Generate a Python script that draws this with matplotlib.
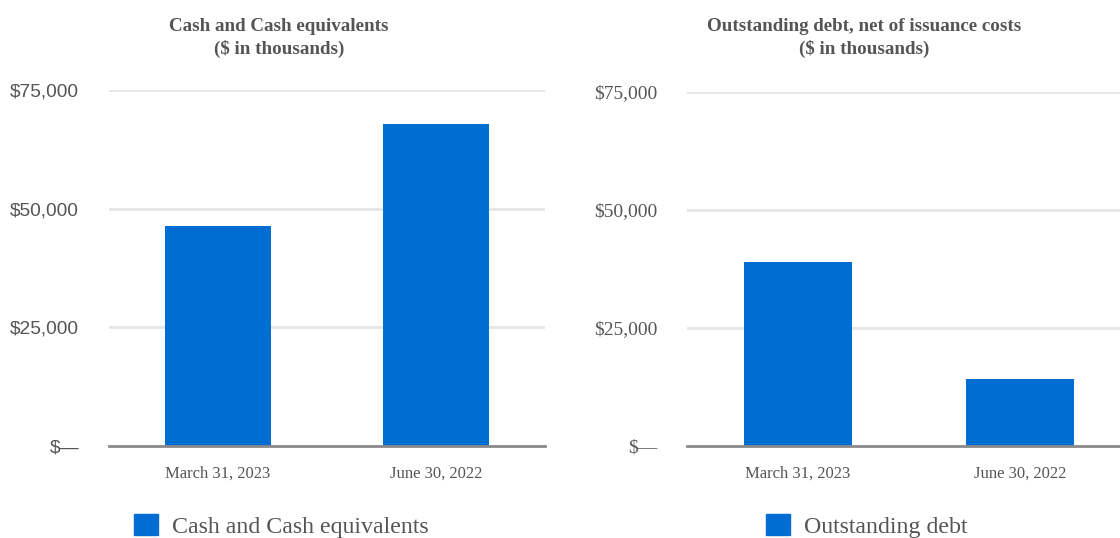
import matplotlib.pyplot as plt
from matplotlib.patches import Patch
from matplotlib.ticker import FuncFormatter

dates = ["March 31, 2023", "June 30, 2022"]
cash = [46300, 67800]
debt = [39000, 14200]
yticks = [0, 25000, 50000, 75000]

blue = "#006dd2"
gray_text = "#555555"

def money(v, pos):
    if v == 0:
        return "$\u2014"
    return "${:,.0f}".format(v)

fig = plt.figure(figsize=(11.2, 5.38), dpi=100)

ax1 = fig.add_axes([109 / 1120, 1 - 446 / 538, 436 / 1120, 356 / 538])
ax2 = fig.add_axes([687 / 1120, 1 - 446 / 538, 444 / 1120, 354 / 538])

setups = [
    (ax1, cash, "Liberation Sans", 13.8),
    (ax2, debt, "Liberation Serif", 14),
]
for ax, vals, yfont, ysize in setups:
    ax.bar(range(len(dates)), vals, width=0.49, color=blue, zorder=3)
    ax.set_xlim(-0.5, 1.5)
    ax.set_ylim(0, 75000)
    ax.set_yticks(yticks)
    ax.yaxis.set_major_formatter(FuncFormatter(money))
    ax.set_xticks(range(len(dates)))
    ax.set_xticklabels(dates, family="Liberation Serif", fontsize=12, color=gray_text)
    for lbl in ax.get_yticklabels():
        lbl.set_family(yfont)
        lbl.set_fontsize(ysize)
        lbl.set_color(gray_text)
    ax.tick_params(axis="y", length=0, pad=21.5)
    ax.tick_params(axis="x", length=0, pad=14)
    ax.grid(axis="y", color="#e6e6e6", linewidth=2, zorder=0)
    for s in ["top", "right", "left"]:
        ax.spines[s].set_visible(False)
    ax.spines["bottom"].set_color("#8a8a8a")
    ax.spines["bottom"].set_linewidth(2)
    ax.spines["bottom"].set_zorder(4)
    for g in ax.get_ygridlines()[:1]:
        g.set_visible(False)

fig.text(279 / 1120, 1 - 38 / 538, "Cash and Cash equivalents\n($ in thousands)",
         ha="center", va="center", family="Liberation Serif", fontweight="bold",
         fontsize=13.7, color=gray_text, linespacing=1.4)
fig.text(864 / 1120, 1 - 38 / 538, "Outstanding debt, net of issuance costs\n($ in thousands)",
         ha="center", va="center", family="Liberation Serif", fontweight="bold",
         fontsize=13.7, color=gray_text, linespacing=1.4)

legend_kw = dict(frameon=False, handlelength=1.0, handleheight=1.0, handletextpad=0.58,
                 prop={"family": "Liberation Serif", "size": 17.2}, labelcolor=gray_text,
                 loc="center left", bbox_transform=fig.transFigure, borderaxespad=0,
                 borderpad=0)
ax1.legend([Patch(color=blue)], ["Cash and Cash equivalents"],
           bbox_to_anchor=(134 / 1120, 1 - 526 / 538), **legend_kw)
ax2.legend([Patch(color=blue)], ["Outstanding debt"],
           bbox_to_anchor=(766 / 1120, 1 - 526 / 538), **legend_kw)

fig.savefig("out.png", dpi=100)
